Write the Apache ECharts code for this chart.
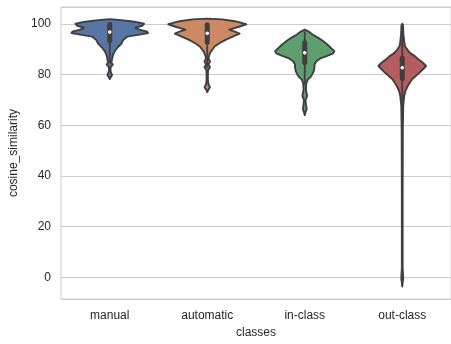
<!DOCTYPE html>
<html>
<head>
<meta charset="utf-8">
<script src="https://cdn.jsdelivr.net/npm/echarts@6/dist/echarts.min.js"></script>
<style>
  html, body { margin: 0; padding: 0; background: #ffffff; }
  #chart { width: 451px; height: 344px; }
</style>
</head>
<body>
<div id="chart"></div>
<script>
// Groups on the x axis
const categories = ['manual', 'automatic', 'in-class', 'out-class'];

// Kernel density profiles: similarity level and relative density (1 = widest violin)
const manualLevels   = [101.9, 101.5, 100.9, 100.1, 99.3, 98.5, 97.8, 97.0, 96.4, 95.8, 95.0, 93.8, 92.3, 90.7, 89.1, 87.6, 86.0, 84.8, 84.0, 82.9, 81.3, 79.9, 78.9, 78.2];
const manualDensity  = [0, 0.30, 0.63, 0.88, 0.83, 0.66, 0.76, 0.96, 0.98, 0.76, 0.45, 0.35, 0.30, 0.20, 0.12, 0.08, 0.06, 0.04, 0.08, 0.02, 0.02, 0.06, 0.02, 0];

const automaticLevels  = [102.1, 101.8, 101.1, 99.9, 98.9, 97.8, 97.0, 96.2, 95.4, 93.8, 92.3, 91.1, 89.1, 87.6, 86.4, 85.2, 84.0, 82.9, 81.7, 78.2, 76.2, 75.0, 73.8, 73.1];
const automaticDensity = [0, 0.38, 0.71, 1.0, 0.81, 0.56, 0.71, 0.83, 0.71, 0.48, 0.30, 0.19, 0.09, 0.05, 0.03, 0.07, 0.03, 0.07, 0.02, 0.015, 0.03, 0.07, 0.02, 0];

const inClassLevels  = [97.8, 97.0, 95.8, 94.5, 93.5, 91.9, 90.7, 89.3, 88.4, 87.3, 86.4, 85.3, 84.0, 82.9, 81.3, 80.1, 78.9, 78.2, 76.6, 74.2, 71.6, 69.9, 68.4, 66.4, 65.2, 64.0];
const inClassDensity = [0, 0.10, 0.20, 0.35, 0.45, 0.58, 0.66, 0.76, 0.73, 0.56, 0.40, 0.30, 0.25, 0.25, 0.23, 0.19, 0.14, 0.08, 0.04, 0.03, 0.06, 0.02, 0.03, 0.05, 0.02, 0];

const outClassLevels  = [100.1, 99.5, 95.8, 93.1, 91.2, 89.9, 88.7, 87.2, 86.0, 84.7, 83.4, 82.1, 80.9, 79.5, 78.2, 75.5, 73.5, 71.6, 67.7, 58.5, 31.1, 3.7, -0.3, -2.2, -3.6];
const outClassDensity = [0, 0.02, 0.03, 0.05, 0.07, 0.13, 0.19, 0.33, 0.42, 0.53, 0.61, 0.53, 0.45, 0.35, 0.25, 0.14, 0.08, 0.05, 0.025, 0.015, 0.01, 0.01, 0.025, 0.01, 0];

// Box summaries per group
const whiskerLow  = [84.5, 82.6, 76.0, 66.5];
const quartile1   = [93.4, 92.8, 84.8, 78.5];
const medians     = [96.8, 96.3, 88.6, 82.7];
const quartile3   = [99.8, 99.7, 92.6, 86.5];
const whiskerHigh = [100.0, 100.0, 97.0, 98.5];

// Y axis ticks
const yTicks = [0, 20, 40, 60, 80, 100];

const profileLevels  = [manualLevels, automaticLevels, inClassLevels, outClassLevels];
const profileDensity = [manualDensity, automaticDensity, inClassDensity, outClassDensity];

const fillColors = ['#5975a4', '#cc8963', '#5f9e6e', '#b55d60'];
const edgeColor = '#3f3f3f';

function renderViolin(params, api) {
  const idx = api.value(0);
  const cx = api.coord([idx, 0])[0];
  const halfMax = api.size([1, 0])[0] * 0.4;
  const levels = profileLevels[idx];
  const dens = profileDensity[idx];
  const right = [];
  const left = [];
  for (let i = 0; i < levels.length; i++) {
    const y = api.coord([idx, levels[i]])[1];
    right.push([cx + dens[i] * halfMax, y]);
    left.push([cx - dens[i] * halfMax, y]);
  }
  const points = right.concat(left.reverse());
  const yw1 = api.coord([idx, whiskerHigh[idx]])[1];
  const yw0 = api.coord([idx, whiskerLow[idx]])[1];
  const yq3 = api.coord([idx, quartile3[idx]])[1];
  const yq1 = api.coord([idx, quartile1[idx]])[1];
  const ym = api.coord([idx, medians[idx]])[1];
  return {
    type: 'group',
    children: [
      {
        type: 'polygon',
        shape: { points: points, smooth: 0 },
        style: { fill: fillColors[idx], stroke: edgeColor, lineWidth: 1.9, lineJoin: 'round' }
      },
      {
        type: 'line',
        shape: { x1: cx, y1: yw1, x2: cx, y2: yw0 },
        style: { stroke: edgeColor, lineWidth: 1.8 }
      },
      {
        type: 'line',
        shape: { x1: cx, y1: yq3, x2: cx, y2: yq1 },
        style: { stroke: edgeColor, lineWidth: 5, lineCap: 'round' }
      },
      {
        type: 'circle',
        shape: { cx: cx, cy: ym, r: 1.8 },
        style: { fill: '#ffffff' }
      }
    ]
  };
}

const chart = echarts.init(document.getElementById('chart'), null, { renderer: 'canvas' });

chart.setOption({
  animation: false,
  backgroundColor: '#ffffff',
  textStyle: { fontFamily: 'Liberation Sans, Arial, sans-serif' },
  grid: {
    left: 61, right: -6, top: 7, bottom: 43,
    show: true, borderColor: '#cccccc', borderWidth: 1
  },
  xAxis: {
    type: 'category',
    data: categories,
    boundaryGap: true,
    axisLine: { show: false },
    axisTick: { show: false },
    splitLine: { show: false },
    axisLabel: { color: '#262626', fontSize: 12, margin: 11 },
    name: 'classes',
    nameLocation: 'middle',
    nameGap: 25,
    nameTextStyle: { color: '#262626', fontSize: 12 }
  },
  yAxis: {
    type: 'value',
    min: -8.6,
    max: 106.7,
    splitNumber: 5,
    axisLine: { show: false },
    axisTick: { show: false },
    splitLine: { show: true, lineStyle: { color: '#cccccc', width: 1 } },
    axisLabel: {
      color: '#262626', fontSize: 12, margin: 10,
      showMinLabel: false, showMaxLabel: false,
      formatter: function (v) { return yTicks.indexOf(Math.round(v * 10) / 10) >= 0 ? String(v) : ''; }
    },
    name: 'cosine_similarity',
    nameLocation: 'middle',
    nameRotate: 90,
    nameGap: 34,
    nameTextStyle: { color: '#262626', fontSize: 12 }
  },
  series: [{
    type: 'custom',
    renderItem: renderViolin,
    data: categories.map(function (c, i) { return [i]; }),
    encode: { x: 0 },
    silent: true,
    clip: false
  }]
});
</script>
</body>
</html>
